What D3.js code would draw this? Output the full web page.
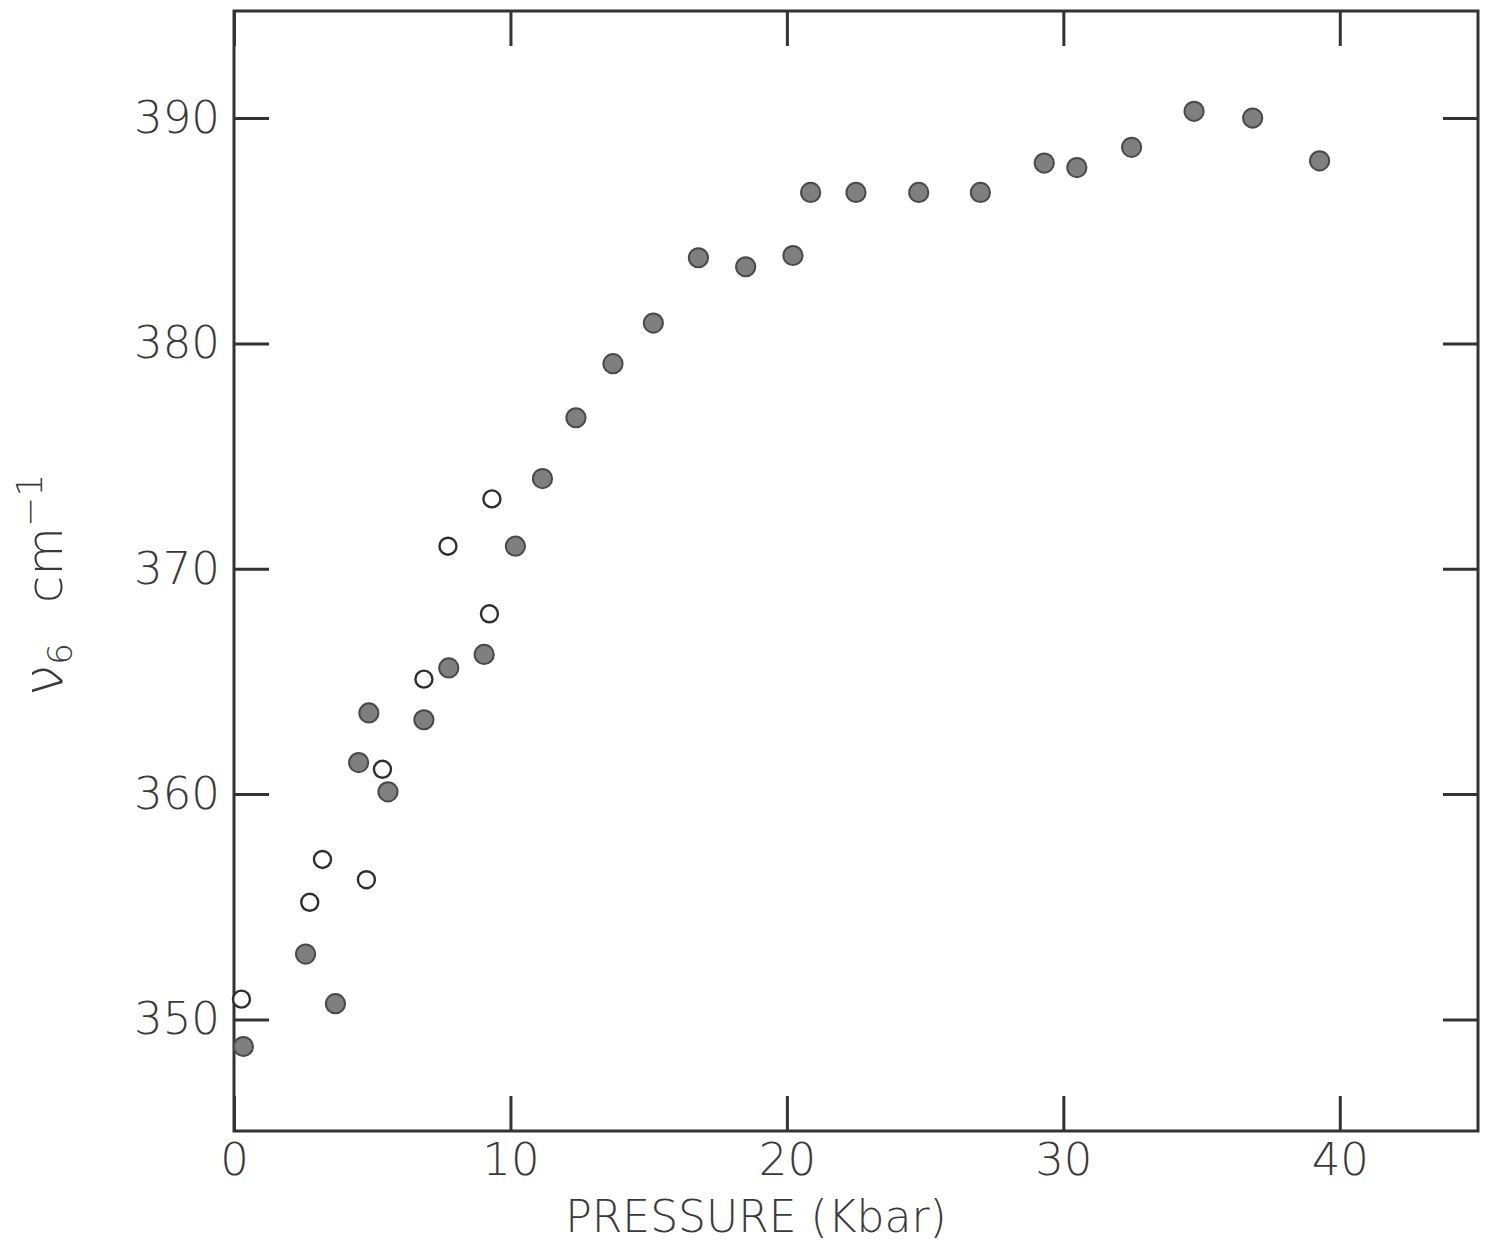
<!DOCTYPE html>
<html>
<head>
<meta charset="utf-8">
<script src="https://cdn.jsdelivr.net/npm/d3@7"></script>
<style>
  html, body { margin: 0; padding: 0; background: #fff; }
  svg { display: block; }
  .lbl { font-family: "DejaVu Sans", "Open Sans", sans-serif; font-weight: 200; fill: #3a3a3a; }
</style>
</head>
<body>
<svg id="chart" width="1486" height="1251"></svg>
<script>
// Pressure dependence of the v6 mode
// Filled circles: first run; open circles: second run
const filledPressure = [0.34, 2.59, 3.67, 4.51, 4.88, 5.57, 6.87, 7.77, 9.05, 10.18, 11.16, 12.37, 13.71,
  15.17, 16.8, 18.51, 20.22, 20.86, 22.5, 24.77, 27.0, 29.31, 30.49, 32.47, 34.73, 36.85, 39.27];
const filledWavenumber = [348.8, 352.9, 350.7, 361.4, 363.6, 360.1, 363.3, 365.6, 366.2, 371.0, 374.0, 376.7, 379.1,
  380.9, 383.8, 383.4, 383.9, 386.7, 386.7, 386.7, 386.7, 388.0, 387.8, 388.7, 390.3, 390.0, 388.1];
const openPressure = [0.27, 2.74, 3.2, 4.79, 5.37, 6.87, 7.74, 9.24, 9.33];
const openWavenumber = [350.9, 355.2, 357.1, 356.2, 361.1, 365.1, 371.0, 368.0, 373.1];

const xTicks = [0, 10, 20, 30, 40];
const yTicks = [350, 360, 370, 380, 390];
const xTitle = "PRESSURE (Kbar)";

const svg = d3.select("#chart");
const plotL = 234, plotR = 1478, plotT = 11, plotB = 1131;

const x = d3.scaleLinear().domain([0, 45]).range([plotL, plotR]);
const y = d3.scaleLinear().domain([345.05, 394.75]).range([plotB, plotT]);

const ink = "#333";
const tickLen = 35;

// frame
svg.append("rect")
  .attr("x", plotL).attr("y", plotT)
  .attr("width", plotR - plotL).attr("height", plotB - plotT)
  .attr("fill", "none").attr("stroke", ink).attr("stroke-width", 3);

function styleAxis(g, withText) {
  g.select(".domain").remove();
  g.selectAll(".tick line").attr("stroke", ink).attr("stroke-width", 3);
  if (withText) {
    g.selectAll(".tick text").attr("class", "lbl").attr("font-size", 45)
      .attr("font-family", "DejaVu Sans, Open Sans, sans-serif").attr("font-weight", 200)
      .attr("fill", "#3a3a3a");
  } else {
    g.selectAll(".tick text").remove();
  }
}

svg.append("g").attr("transform", `translate(0,${plotB})`)
  .call(d3.axisBottom(x).tickValues(xTicks).tickSize(-tickLen).tickPadding(12).tickFormat(d3.format("d")))
  .call(g => styleAxis(g, true));
svg.append("g").attr("transform", `translate(0,${plotT})`)
  .call(d3.axisTop(x).tickValues(xTicks).tickSize(-tickLen))
  .call(g => styleAxis(g, false));
svg.append("g").attr("transform", `translate(${plotL},0)`)
  .call(d3.axisLeft(y).tickValues(yTicks).tickSize(-tickLen).tickPadding(14).tickFormat(d3.format("d")))
  .call(g => styleAxis(g, true));
svg.append("g").attr("transform", `translate(${plotR},0)`)
  .call(d3.axisRight(y).tickValues(yTicks).tickSize(-tickLen))
  .call(g => styleAxis(g, false));

// x title
svg.append("text").attr("class", "lbl")
  .attr("x", 756).attr("y", 1232)
  .attr("text-anchor", "middle")
  .attr("font-size", 44)
  .text(xTitle);

// y title: nu_6 cm^-1
const yt = svg.append("text").attr("class", "lbl")
  .attr("transform", "translate(62,585) rotate(-90)")
  .attr("text-anchor", "middle")
  .attr("font-size", 50);
yt.append("tspan").attr("font-size", 56).text("ν");
yt.append("tspan").attr("font-size", 34).attr("dy", 10).text("6");
yt.append("tspan").attr("dy", -10).attr("dx", 40).text("cm");
yt.append("tspan").attr("font-size", 36).attr("dy", -20).text("−1");

// markers
const filled = filledPressure.map((p, i) => ({ p, v: filledWavenumber[i] }));
const open = openPressure.map((p, i) => ({ p, v: openWavenumber[i] }));

svg.append("g").selectAll("circle").data(open).join("circle")
  .attr("cx", d => x(d.p)).attr("cy", d => y(d.v)).attr("r", 8.5)
  .attr("fill", "#fff").attr("stroke", "#2e2e2e").attr("stroke-width", 2.4);

svg.append("g").selectAll("circle").data(filled).join("circle")
  .attr("cx", d => x(d.p)).attr("cy", d => y(d.v)).attr("r", 9.6)
  .attr("fill", "#7f7f7f").attr("stroke", "#4a4a4a").attr("stroke-width", 2);
</script>
</body>
</html>
